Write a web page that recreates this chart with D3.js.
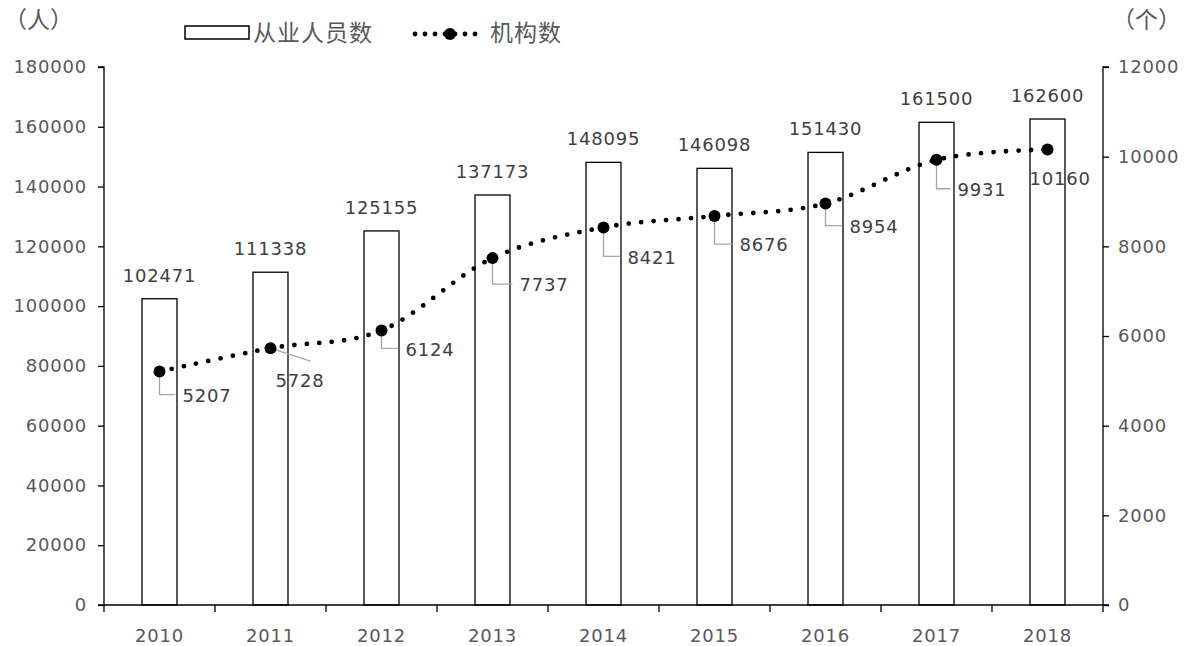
<!DOCTYPE html>
<html>
<head>
<meta charset="utf-8">
<script src="https://cdn.jsdelivr.net/npm/d3@7"></script>
<style>
  body { margin: 0; background: #fff; }
  svg text { font-family: "DejaVu Sans", sans-serif; }
  svg text.num { letter-spacing: 0.8px; }
  svg text.cjk { font-family: "Noto Sans CJK SC", sans-serif; }
</style>
</head>
<body>
<svg id="chart"></svg>
<script>
const years = ['2010', '2011', '2012', '2013', '2014', '2015', '2016', '2017', '2018']
const staff = [102471, 111338, 125155, 137173, 148095, 146098, 151430, 161500, 162600]
const institutions = [5207, 5728, 6124, 7737, 8421, 8676, 8954, 9931, 10160]
const leftTicks = [0, 20000, 40000, 60000, 80000, 100000, 120000, 140000, 160000, 180000]
const rightTicks = [0, 2000, 4000, 6000, 8000, 10000, 12000]

// label placement for line data labels: text start offset from point, leader type
const lineLabelPos = [
  { dx: 23, dy: 24, leader: 'elbow' },
  { dx: 5, dy: 33, leader: 'diag' },
  { dx: 24, dy: 19, leader: 'elbow' },
  { dx: 27, dy: 27, leader: 'elbow' },
  { dx: 24, dy: 30, leader: 'elbow' },
  { dx: 25, dy: 29, leader: 'elbow' },
  { dx: 24, dy: 23, leader: 'elbow' },
  { dx: 21, dy: 30, leader: 'elbow' },
  { dx: -18, dy: 29, leader: 'none' }
]

const width = 1196
const height = 646
const margin = { top: 67, right: 93, bottom: 41, left: 104 }
const innerW = width - margin.left - margin.right
const innerH = height - margin.top - margin.bottom

const svg = d3.select('#chart')
  .attr('width', width)
  .attr('height', height)

const g = svg.append('g')
  .attr('transform', `translate(${margin.left},${margin.top})`)

const x = d3.scaleBand().domain(years).range([0, innerW]).paddingInner(0).paddingOuter(0)
const yL = d3.scaleLinear().domain([0, 180000]).range([innerH, 0])
const yR = d3.scaleLinear().domain([0, 12000]).range([innerH, 0])

const textColor = '#595959'
const numSize = 18
const barW = x.bandwidth() * 0.315

// bars
g.selectAll('rect.bar')
  .data(staff)
  .enter().append('rect')
  .attr('class', 'bar')
  .attr('x', (d, i) => x(years[i]) + x.bandwidth() / 2 - barW / 2)
  .attr('y', d => yL(d))
  .attr('width', barW)
  .attr('height', d => innerH - yL(d))
  .attr('fill', '#fff')
  .attr('stroke', '#000')
  .attr('stroke-width', 1.3)

g.selectAll('text.barlabel')
  .data(staff)
  .enter().append('text')
  .attr('class', 'barlabel num')
  .attr('x', (d, i) => x(years[i]) + x.bandwidth() / 2)
  .attr('y', d => yL(d) - 17)
  .attr('text-anchor', 'middle')
  .attr('font-size', numSize)
  .attr('fill', '#404040')
  .text(d => d)

// axes
const axisL = d3.axisLeft(yL).tickValues(leftTicks).tickFormat(d3.format('d')).tickSize(6).tickPadding(11)
const axisR = d3.axisRight(yR).tickValues(rightTicks).tickFormat(d3.format('d')).tickSize(6).tickPadding(9)

const gL = g.append('g').call(axisL)
const gR = g.append('g').attr('transform', `translate(${innerW},0)`).call(axisR)
;[gL, gR].forEach(ax => {
  ax.attr('font-family', null)
  ax.select('.domain').attr('stroke', '#000').attr('stroke-width', 1.3)
  ax.selectAll('.tick line').attr('stroke', '#000').attr('stroke-width', 1.3)
  ax.selectAll('.tick text').attr('class', 'num').attr('font-size', numSize).attr('fill', textColor)
})
gL.select('.domain').attr('d', `M-6,0H0V${innerH}`)
gR.select('.domain').attr('d', `M6,0H0V${innerH}`)

// x axis
const gx = g.append('g').attr('transform', `translate(0,${innerH})`)
gx.append('line')
  .attr('x1', -6).attr('x2', innerW + 6)
  .attr('stroke', '#000').attr('stroke-width', 1.3)
gx.selectAll('line.xtick')
  .data(d3.range(years.length + 1))
  .enter().append('line')
  .attr('class', 'xtick')
  .attr('x1', i => i * x.bandwidth()).attr('x2', i => i * x.bandwidth())
  .attr('y1', 0).attr('y2', 7)
  .attr('stroke', '#000').attr('stroke-width', 1.3)
gx.selectAll('text')
  .data(years)
  .enter().append('text')
  .attr('class', 'num')
  .attr('x', d => x(d) + x.bandwidth() / 2)
  .attr('y', 31)
  .attr('dy', '0.35em')
  .attr('text-anchor', 'middle')
  .attr('font-size', numSize)
  .attr('fill', textColor)
  .text(d => d)

// line
const pts = institutions.map((v, i) => [x(years[i]) + x.bandwidth() / 2, yR(v)])
g.append('path')
  .datum(pts)
  .attr('d', d3.line().curve(d3.curveCatmullRom.alpha(0)))
  .attr('fill', 'none')
  .attr('stroke', '#000')
  .attr('stroke-width', 4.8)
  .attr('stroke-linecap', 'round')
  .attr('stroke-dasharray', '0 12.5')

// leader lines
pts.forEach((p, i) => {
  const o = lineLabelPos[i]
  if (o.leader === 'elbow') {
    g.append('path')
      .attr('d', `M${p[0]},${p[1]}V${p[1] + o.dy - 1}H${p[0] + o.dx - 7}`)
      .attr('fill', 'none').attr('stroke', '#a6a6a6').attr('stroke-width', 1.3)
  } else if (o.leader === 'diag') {
    g.append('path')
      .attr('d', `M${p[0]},${p[1]}L${p[0] + 40},${p[1] + 13}`)
      .attr('fill', 'none').attr('stroke', '#a6a6a6').attr('stroke-width', 1.3)
  }
})

g.selectAll('circle.marker')
  .data(pts)
  .enter().append('circle')
  .attr('class', 'marker')
  .attr('cx', d => d[0]).attr('cy', d => d[1])
  .attr('r', 6)
  .attr('fill', '#000')

g.selectAll('text.linelabel')
  .data(institutions)
  .enter().append('text')
  .attr('class', 'linelabel num')
  .attr('x', (d, i) => pts[i][0] + lineLabelPos[i].dx)
  .attr('y', (d, i) => pts[i][1] + lineLabelPos[i].dy)
  .attr('dy', '0.35em')
  .attr('font-size', numSize)
  .attr('fill', '#404040')
  .text(d => d)

// unit labels
svg.append('text').attr('class', 'cjk').attr('x', 4).attr('y', 28).attr('font-size', 23).attr('fill', textColor).text('（人）')
svg.append('text').attr('class', 'cjk').attr('x', 1112).attr('y', 28).attr('font-size', 23).attr('fill', textColor).text('（个）')

// legend
const lg = svg.append('g')
lg.append('rect')
  .attr('x', 185).attr('y', 26).attr('width', 64).attr('height', 13)
  .attr('fill', '#fff').attr('stroke', '#000').attr('stroke-width', 1.5)
lg.append('text').attr('class', 'cjk').attr('x', 253).attr('y', 41).attr('font-size', 23).attr('letter-spacing', 1).attr('fill', textColor).text('从业人员数')
lg.append('path')
  .attr('d', 'M415,34H485')
  .attr('stroke', '#000').attr('stroke-width', 4.8)
  .attr('stroke-linecap', 'round').attr('stroke-dasharray', '0 10')
lg.append('circle').attr('cx', 450).attr('cy', 34).attr('r', 6).attr('fill', '#000')
lg.append('text').attr('class', 'cjk').attr('x', 490).attr('y', 41).attr('font-size', 23).attr('letter-spacing', 1).attr('fill', textColor).text('机构数')
</script>
</body>
</html>
